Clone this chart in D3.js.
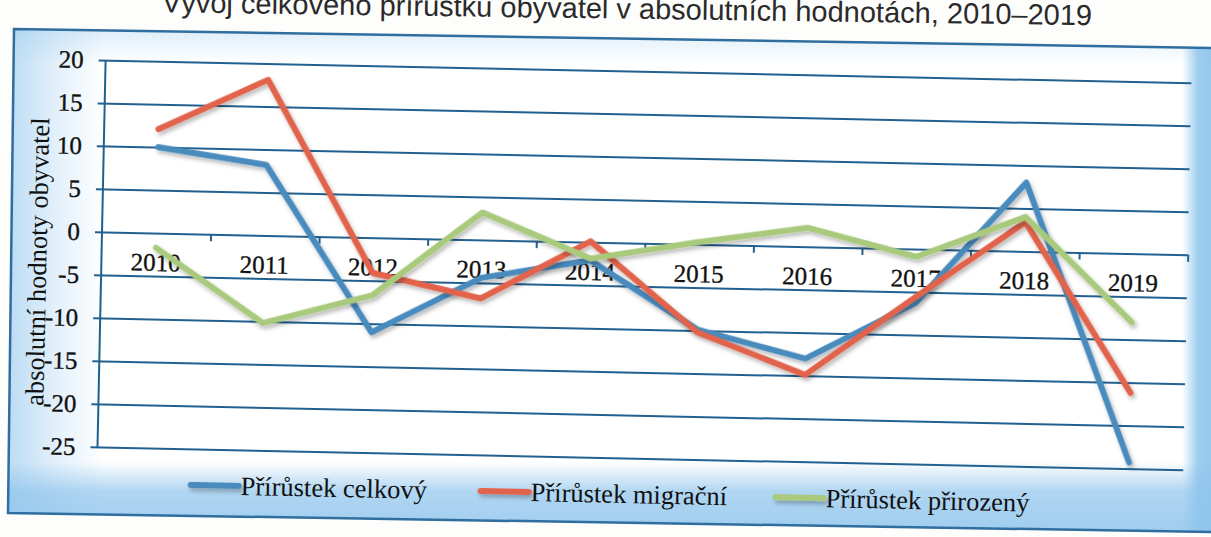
<!DOCTYPE html>
<html>
<head>
<meta charset="utf-8">
<script src="https://cdn.jsdelivr.net/npm/d3@7"></script>
<style>
  body { margin: 0; background: #fdfdfc; }
  svg { display: block; }
</style>
</head>
<body>
<div id="chart"></div>
<script>
// data
const years = ["2010", "2011", "2012", "2013", "2014", "2015", "2016", "2017", "2018", "2019"];
const celkovy = [10, 8.2, -11, -4.4, -2.1, -9.9, -13, -6.3, 8, -24.3];
const migracni = [12.1, 18.1, -4.1, -6.8, 0.1, -10.2, -14.9, -5.6, 3.4, -16.2];
const prirozeny = [-1.7, -10.2, -6.7, 3.2, -1.9, 0.3, 2.2, -0.9, 4.0, -8.0];
const yTicks = [20, 15, 10, 5, 0, -5, -10, -15, -20, -25];
const seriesNames = ["Přírůstek celkový", "Přírůstek migrační", "Přírůstek přirozený"];
const seriesColors = ["#4a8bbd", "#e1634b", "#a9c97b"];

const width = 1211, height = 537;
const serif = "Liberation Serif, Times New Roman, serif";

const svg = d3.select("#chart").append("svg")
    .attr("width", width)
    .attr("height", height);

const defs = svg.append("defs");

// vertical tint: light at top, blue band at the bottom (legend strip)
const gv = defs.append("linearGradient").attr("id", "bgV")
    .attr("x1", 0).attr("y1", 0).attr("x2", 0).attr("y2", 1);
[[0, 0.3], [0.07, 0], [0.86, 0], [0.92, 0.7], [1, 0.85]].forEach(s =>
    gv.append("stop").attr("offset", s[0]).attr("stop-color", "#8ec4ec").attr("stop-opacity", s[1]));

// horizontal tint: left and right edges
const gh = defs.append("linearGradient").attr("id", "bgH")
    .attr("x1", 0).attr("y1", 0).attr("x2", 1).attr("y2", 0);
[[0, 0.6], [0.04, 0.25], [0.08, 0], [0.972, 0], [0.985, 0.85], [1, 0.95]].forEach(s =>
    gh.append("stop").attr("offset", s[0]).attr("stop-color", "#8ec4ec").attr("stop-opacity", s[1]));

const shadow = defs.append("filter").attr("id", "shadow")
    .attr("filterUnits", "userSpaceOnUse")
    .attr("x", 0).attr("y", 0).attr("width", width).attr("height", height);
shadow.append("feDropShadow")
    .attr("dx", 2).attr("dy", 3).attr("stdDeviation", 2)
    .attr("flood-color", "#000").attr("flood-opacity", 0.28);

// frame of the photographed box
const framePts = "14,29 1216,48 1216,532 8,513";
svg.append("polygon").attr("points", framePts).attr("fill", "#ffffff");
svg.append("polygon").attr("points", framePts).attr("fill", "url(#bgV)");
svg.append("polygon").attr("points", framePts).attr("fill", "url(#bgH)");
svg.append("polygon").attr("points", framePts)
    .attr("fill", "none")
    .attr("stroke", "#2f6e9e")
    .attr("stroke-width", 2.5);

// title (top is cut off in the photo)
svg.append("text")
    .attr("x", 1092).attr("y", 19)
    .attr("transform", "rotate(0.8,650,18)")
    .attr("text-anchor", "end")
    .style("font-family", "Liberation Sans, Arial, sans-serif")
    .style("font-size", "29px")
    .attr("fill", "#2a2a2a")
    .text("Vývoj celkového přírůstku obyvatel v absolutních hodnotách, 2010–2019");

// everything inside is tilted a little, like the photo
const g = svg.append("g").attr("transform", "rotate(1.2,102,232)");

const x = d3.scaleBand().domain(years).range([102, 1188]);
const xEdge = d3.scaleLinear().domain([0, years.length]).range([102, 1188]);
const y = d3.scaleLinear().domain([-25, 20]).range([447, 60]);

// gridlines + y labels
const yAxis = g.append("g")
    .attr("transform", `translate(${x.range()[1]},0)`)
    .call(d3.axisLeft(y).tickValues(yTicks).tickSize(x.range()[1] - 95).tickPadding(15)
        .tickFormat(d => String(d)));
yAxis.select(".domain").remove();
yAxis.selectAll("line").attr("stroke", "#22608f").attr("stroke-width", 2);
yAxis.selectAll("text")
    .style("font-family", serif).style("font-size", "25px")
    .attr("fill", "#111").attr("stroke", "#111").attr("stroke-width", 0.35);

// vertical axis line
g.append("line")
    .attr("x1", x.range()[0]).attr("x2", x.range()[0])
    .attr("y1", y(20)).attr("y2", y(-25))
    .attr("stroke", "#22608f").attr("stroke-width", 2);

// category ticks on the zero line
const xTicks = g.append("g")
    .attr("transform", `translate(0,${y(0)})`)
    .call(d3.axisBottom(xEdge).tickValues(d3.range(1, years.length + 1)).tickSize(7).tickFormat(""));
xTicks.select(".domain").remove();
xTicks.selectAll("line").attr("stroke", "#22608f").attr("stroke-width", 2);

const xLabels = g.append("g")
    .attr("transform", `translate(0,${y(0)})`)
    .call(d3.axisBottom(x).tickSize(0).tickPadding(20));
xLabels.select(".domain").remove();
xLabels.selectAll("text")
    .style("font-family", serif).style("font-size", "25px")
    .attr("fill", "#111").attr("stroke", "#111").attr("stroke-width", 0.35);

// y axis title
g.append("text")
    .attr("transform", "translate(47,263) rotate(-90)")
    .attr("text-anchor", "middle")
    .style("font-family", serif).style("font-size", "26.5px")
    .attr("fill", "#111")
    .text("absolutní hodnoty obyvatel");

// lines
const line = d3.line()
    .x((d, i) => x(years[i]) + x.bandwidth() / 2)
    .y(d => y(d));

[celkovy, migracni, prirozeny].forEach((vals, k) => {
    g.append("path")
        .datum(vals)
        .attr("d", line)
        .attr("fill", "none")
        .attr("stroke", seriesColors[k])
        .attr("stroke-width", 6)
        .attr("stroke-linejoin", "round")
        .attr("stroke-linecap", "round")
        .attr("filter", "url(#shadow)");
});

// legend
const legendX = [196, 486, 781];
const legend = g.append("g");
seriesNames.forEach((name, k) => {
    legend.append("line")
        .attr("x1", legendX[k]).attr("x2", legendX[k] + 48)
        .attr("y1", 483).attr("y2", 483)
        .attr("stroke", seriesColors[k]).attr("stroke-width", 6)
        .attr("stroke-linecap", "round")
        .attr("filter", "url(#shadow)");
    legend.append("text")
        .attr("x", legendX[k] + 50).attr("y", 492)
        .style("font-family", serif).style("font-size", "26.5px")
        .attr("fill", "#111")
        .text(name);
});
</script>
</body>
</html>
